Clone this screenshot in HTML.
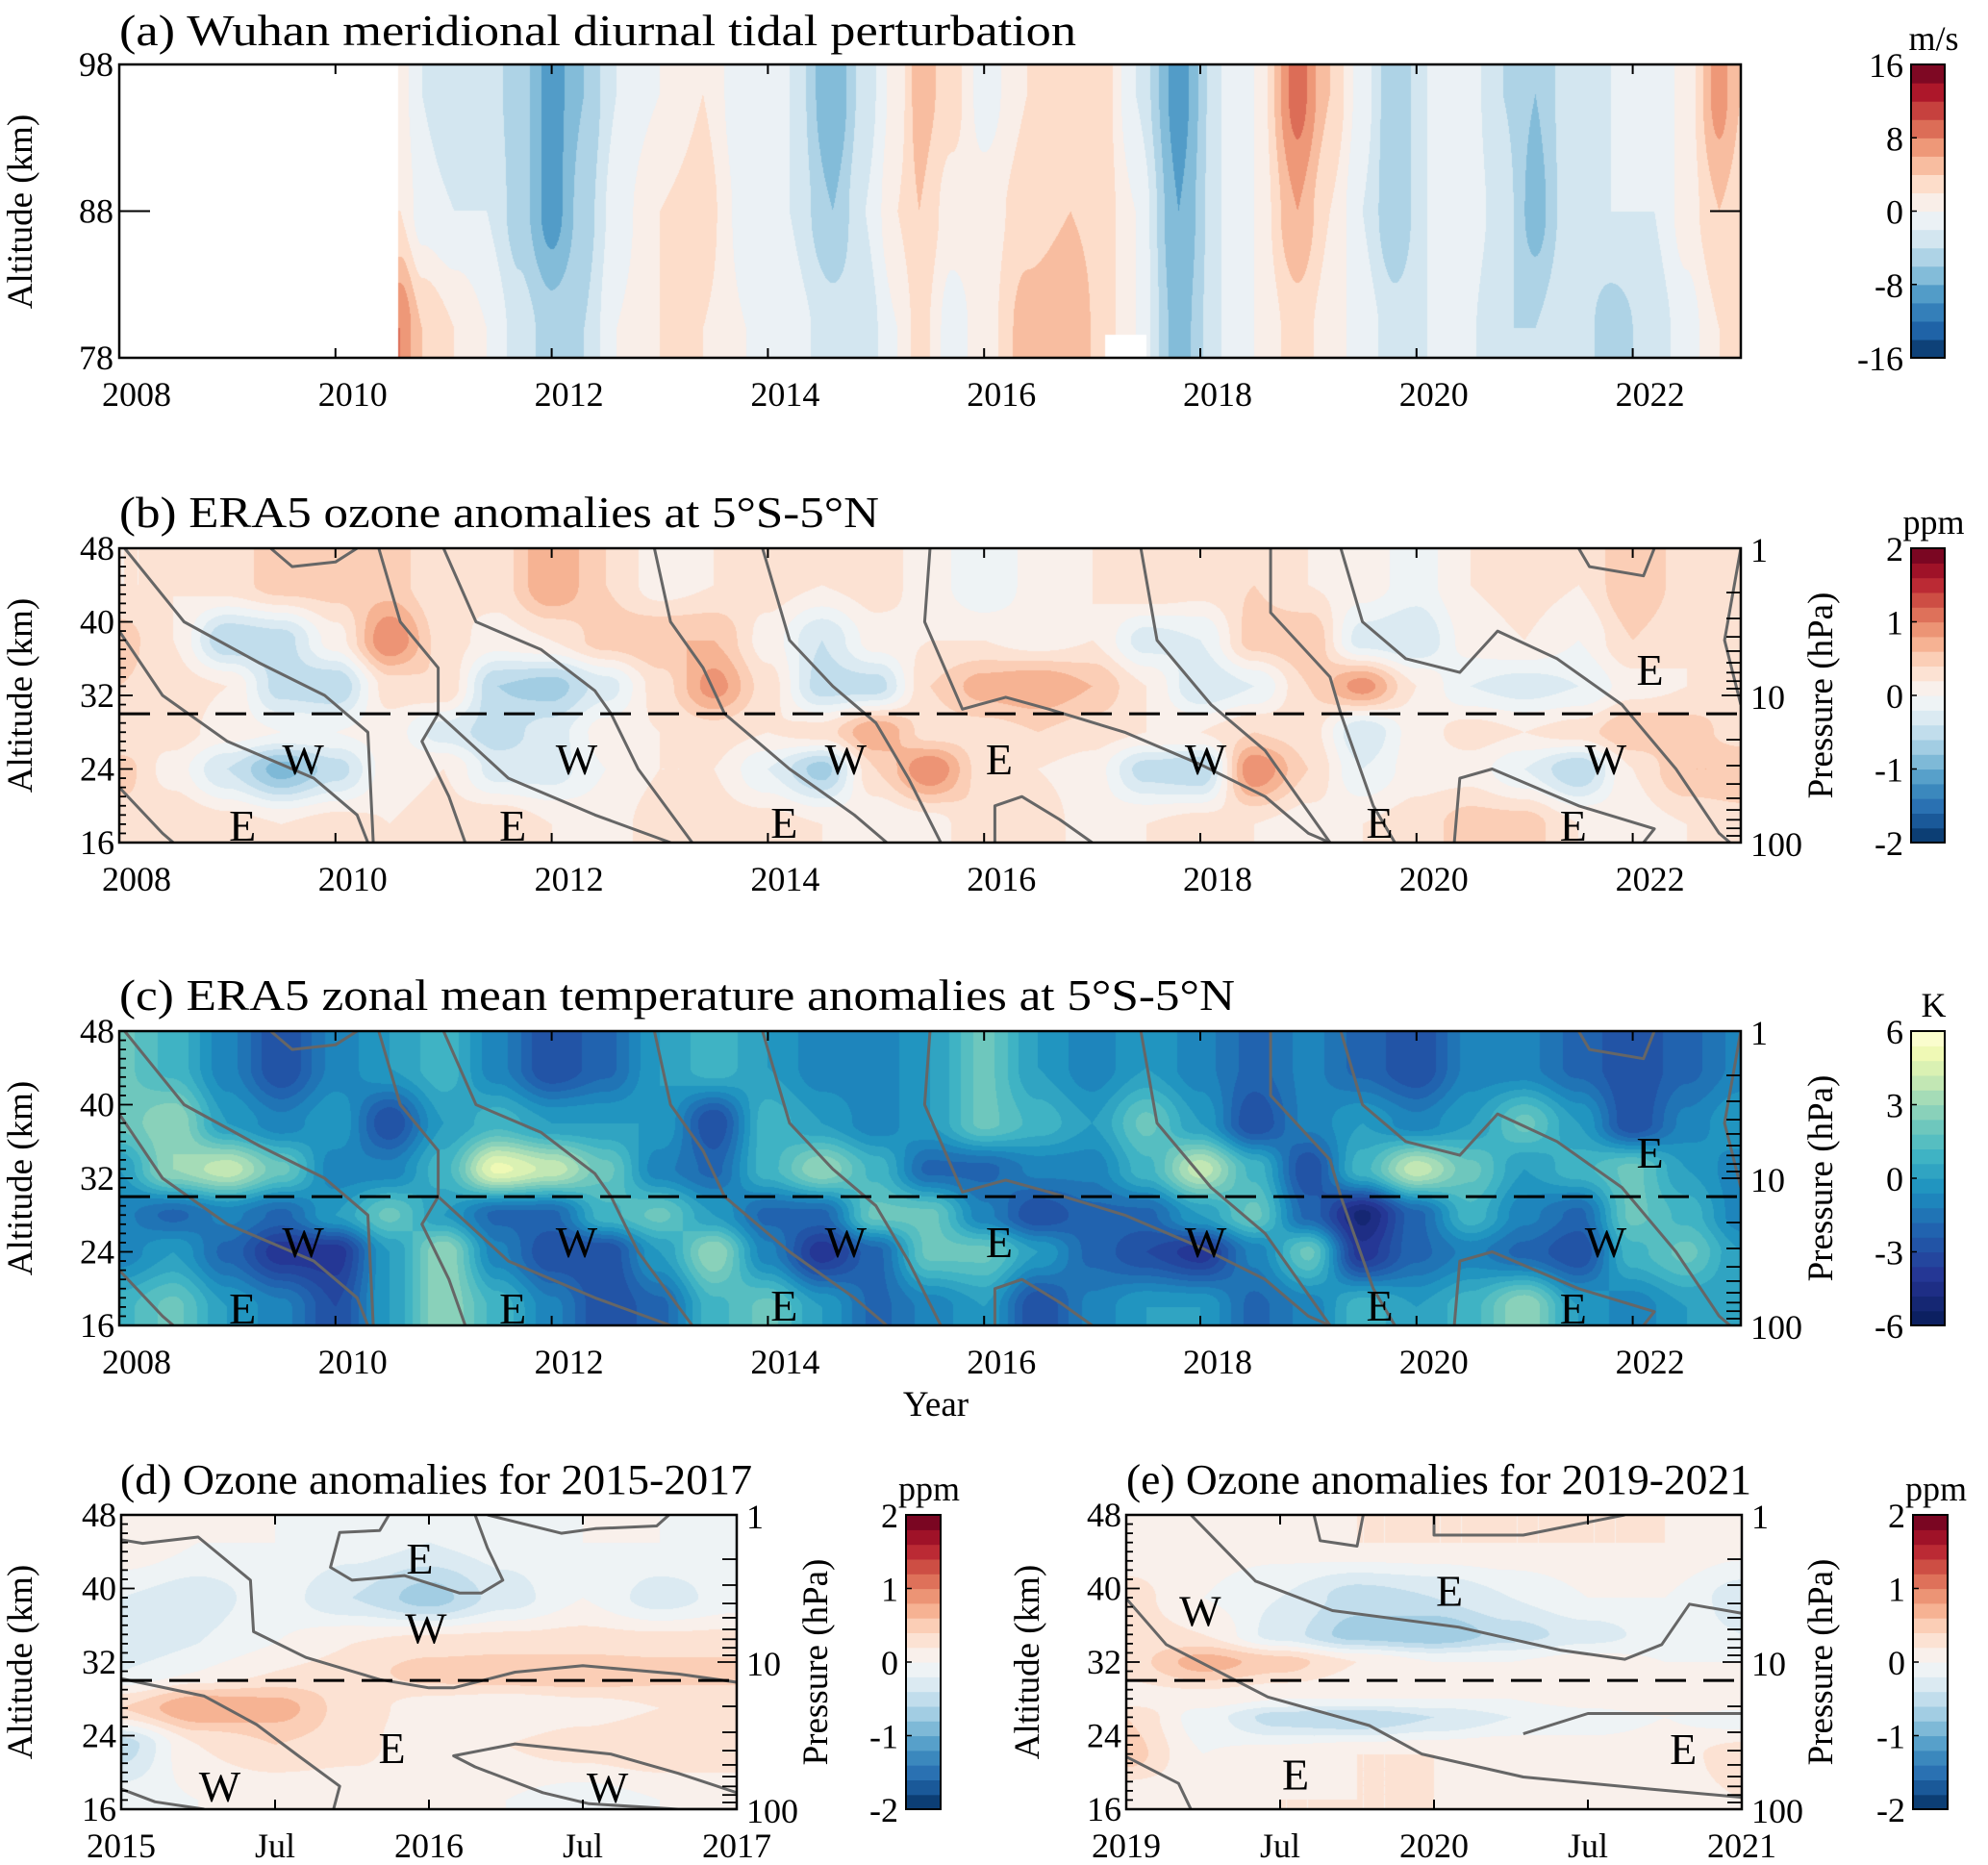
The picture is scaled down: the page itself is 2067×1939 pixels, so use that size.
<!DOCTYPE html>
<html><head><meta charset="utf-8"><title>QBO tidal and ozone figure</title>
<style>
html,body{margin:0;padding:0;background:#fff;}
#wrap{position:relative;width:2067px;height:1939px;overflow:hidden;}
canvas,svg{position:absolute;left:0;top:0;}
text{font-family:"Liberation Serif","DejaVu Serif",serif;fill:#000;}
</style></head>
<body>
<div id="wrap">
<canvas id="heat" width="2067" height="1939"></canvas>
<svg id="ov" width="2067" height="1939" xmlns="http://www.w3.org/2000/svg"></svg>
</div>
<script>
// ---------- Panel (a) data: Wuhan meridional diurnal tide (m/s) ----------
const aYears=[2010.6,2010.8,2011.1,2011.4,2011.7,2012.0,2012.3,2012.6,2013.0,2013.4,2013.8,2014.2,2014.6,2014.9,2015.2,2015.4,2015.7,2016.0,2016.4,2016.8,2017.1,2017.4,2017.8,2018.2,2018.5,2018.9,2019.2,2019.5,2019.8,2020.1,2020.4,2020.8,2021.1,2021.4,2021.8,2022.2,2022.5,2022.8,2023.0];
const aAlts=[80,88,96];
const aBot=[8,4,2,0,-3,-5,-4,0,2,2,0,-1,-3,-3,0,3,-1,1,5,6,3,0,-7,-2,0,3,1,-1,-3,-2,-1,-4,-4,-2,-5,-3,-1,2,2];
const aMid=[2,-1,-2,-2,-5,-9,-5,-1,2,3,-1,-2,-6,-2,2,4,1,1,3,4,3,0,-8,-2,0,6,2,-2,-6,-2,0,-3,-7,-3,-2,-2,1,4,3];
const aTop=[1,-2,-4,-3,-5,-9,-6,-2,0,2,-2,-2,-8,-3,1,5,3,-1,2,3,3,-2,-9,-2,0,9,4,-1,-6,-2,0,-4,-6,-3,-2,-2,1,7,4];
const aTicksX=[2008,2010,2012,2014,2016,2018,2020,2022];
const aTicksY=[78,88,98];
const aCbTicks=[16,8,0,-8,-16];

// ---------- Panel (b) data: ERA5 ozone anomalies (ppm) ----------
const bcYears=[2008,2008.5,2009,2009.5,2010,2010.5,2011,2011.5,2012,2012.5,2013,2013.5,2014,2014.5,2015,2015.5,2016,2016.5,2017,2017.5,2018,2018.5,2019,2019.5,2020,2020.5,2021,2021.5,2022,2022.5,2023];
const bcAlts=[18,24,28,33,38,44];
const b18=[0.3,0.4,0.3,0.2,0.3,0.2,0.3,0.4,0.2,0.1,0.3,0.3,0.3,0.2,0,0.1,0.4,0.3,0.1,0.2,0.3,0.2,0.1,0.2,0.3,0.5,0.5,0.2,0.1,0.2,0.3];
const b24=[0.5,0.1,-0.4,-0.9,-0.5,0.1,0.2,-0.3,-0.3,0,0.2,0.2,-0.2,-0.7,0.4,1.0,0.3,0.2,0.1,-0.5,-0.6,1.0,0.4,-0.2,0.1,0.1,-0.2,-0.6,0.2,0.6,0.6];
const b28=[0.2,0.3,0.1,0,0,0.1,-0.3,-0.5,-0.3,0.1,0.2,0.3,0.2,0.3,0.8,0.3,0.3,0.4,0.3,0.2,0.2,0.4,0.3,-0.4,0.1,0.3,0.2,0.3,0.6,0.5,0.3];
const b33=[0.4,0.3,0.2,-0.5,-0.6,0.3,0.4,-0.6,-0.7,-0.3,0.3,0.9,0.3,-0.5,-0.5,0.4,0.7,0.8,0.6,0.2,-0.4,-0.2,0.4,0.9,0.2,-0.2,-0.3,-0.2,0.1,0.2,0.4];
const b38=[0.5,0.2,-0.6,-0.5,0.1,1.0,0.3,0.1,0.2,0.5,0.6,0.6,0.1,-0.4,0.1,0.2,0.2,0.1,0.2,-0.3,-0.2,0.5,0.6,-0.3,-0.4,0.1,0.2,0,0.4,0.2,0.3];
const b44=[0.2,0.2,0.3,0.5,0.5,0.5,0.2,0.3,0.8,0.4,0.1,0.2,0.3,0.2,0.3,0.1,-0.2,0.1,0.2,0.4,0.3,0.4,0.2,0.1,-0.1,0.2,0.3,0.2,0.6,0.3,0.2];

// ---------- Panel (c) data: ERA5 temperature anomalies (K) ----------
const c18=[1,2,0,-1,-3,0,3,1,-1,-3,-2,1,2,0,-2,-1,0,-3,-1,0,0,-2,-1,1,0,1,3,0,-1,0,0];
const c24=[-1,0,-2,-4,-4,0,3,-1,-3,-3,0,3,-1,-4,-2,2,2,0,-2,-3,-4,-1,2,-4,-2,-1,-2,-3,1,2,0];
const c28=[-1,-2,-1,-2,0,2,0,-2,-2,1,2,0,-2,-2,2,2,-1,-3,-2,-2,0,2,-2,-5,-2,1,-1,-2,2,1,-1];
const c33=[0,3,4,2,-1,-1,1,5,4,2,-1,-2,1,3,1,-2,-2,-1,-1,1,4,1,-3,1,4,2,0,1,2,0,-1];
const c38=[2,3,0,-1,0,-3,0,1,0,0,0,-3,1,0,-1,0,2,1,0,2,0,-3,-1,0,-1,0,2,0,-3,-1,0];
const c44=[2,1,-1,-3,-1,0,1,-1,-3,-2,0,1,0,-1,-1,0,2,0,-1,0,-1,-2,-1,-2,-3,-1,-1,-2,-3,-2,-1];
const bcTicksX=[2008,2010,2012,2014,2016,2018,2020,2022];
const altTicks=[16,24,32,40,48];
const bCbTicks=[2,1,0,-1,-2];
const cCbTicks=[6,3,0,-3,-6];

// ---------- Panel (d) data: ozone 2015-2017 ----------
const dYears=[2015,2015.25,2015.5,2015.75,2016,2016.25,2016.5,2016.75,2017];
const dAlts=[17,23,27,31,34,39,45];
const d17=[-0.1,0,0,0,0.1,0,-0.1,0,0];
const d23=[-0.5,0.2,0.4,0.3,0,0.2,0.3,0.4,0.4];
const d27=[0.4,0.8,0.7,0.3,0.1,0,0.1,0.2,0.2];
const d31=[-0.2,0,0.2,0.3,0.5,0.6,0.6,0.5,0.5];
const d34=[-0.4,-0.2,0,0.2,0.3,0.3,0.3,0.3,0.3];
const d39=[-0.2,-0.3,-0.1,-0.4,-0.7,-0.3,0,-0.3,-0.1];
const d45=[0.2,0,0,-0.1,-0.2,-0.1,0,0,-0.1];
const dTickLabels=["2015","Jul","2016","Jul","2017"];
const dTickYears=[2015,2015.5,2016,2016.5,2017];

// ---------- Panel (e) data: ozone 2019-2021 ----------
const eYears=[2019,2019.25,2019.5,2019.75,2020,2020.25,2020.5,2020.75,2021];
const eAlts=[17,22,26,28,32,35,39,45];
const e17=[0,0.1,0.2,0.2,0.2,0.1,0.1,0.1,0.2];
const e22=[0.5,0,0.1,0.2,0.2,0.2,0.1,0.1,0.3];
const e26=[0.4,-0.1,-0.5,-0.6,-0.4,-0.2,-0.1,0,-0.1];
const e28=[0.1,0.1,0,0,0,0,0.1,0.2,0.2];
const e32=[0.3,0.7,0.5,0.2,0,0,0.1,0,0];
const e35=[0.3,0.2,-0.3,-0.7,-0.8,-0.5,-0.3,-0.1,-0.2];
const e39=[0.3,0,-0.2,-0.5,-0.4,-0.2,0,0,-0.3];
const e45=[0,0.1,0.1,0.2,0.2,0.2,0.2,0.2,0.1];
const eTickLabels=["2019","Jul","2020","Jul","2021"];
const eTickYears=[2019,2019.5,2020,2020.5,2021];

// ---------- zero-wind (QBO) contour lines: [year, altitude] ----------
const qboLines=[
 [[2008.05,48],[2008.6,40],[2009.3,35.5],[2009.9,32],[2010.3,28],[2010.35,16]],
 [[2008,39],[2008.4,32],[2009,27],[2009.8,23],[2010.2,19],[2010.3,16]],
 [[2008,22],[2008.4,17],[2008.5,16]],
 [[2009.4,48],[2009.6,46],[2010,46.5],[2010.2,48]],
 [[2010.4,48],[2010.6,40],[2010.95,35],[2010.95,30],[2010.8,27],[2011.05,21],[2011.2,16]],
 [[2011,48],[2011.3,40],[2011.9,37],[2012.4,32.5],[2012.55,30],[2012.8,24],[2013.3,16]],
 [[2010.95,30],[2011.6,23],[2012.4,19],[2013.1,16]],
 [[2012.95,48],[2013.1,40],[2013.4,35],[2013.6,30],[2014.2,24],[2014.8,19],[2015.1,16]],
 [[2013.95,48],[2014.2,38],[2014.6,33],[2015.0,29],[2015.3,23],[2015.6,16]],
 [[2015.5,48],[2015.45,40],[2015.8,30.5],[2016.2,31.8],[2016.6,30.5],[2017.3,28],[2018.0,24.5],[2018.6,21],[2019.0,17],[2019.2,16]],
 [[2017.45,48],[2017.6,38],[2018.1,31],[2018.6,26],[2019.2,16]],
 [[2016.1,16],[2016.1,20],[2016.35,21],[2016.7,18.5],[2017.0,16]],
 [[2018.65,48],[2018.65,41],[2019.2,34],[2019.3,30],[2019.6,20],[2019.8,16]],
 [[2019.3,48],[2019.5,40],[2019.9,36],[2020.4,34.5],[2020.75,39],[2021.3,36],[2021.9,31],[2022.4,24],[2022.8,17],[2022.9,16]],
 [[2020.35,16],[2020.4,23],[2020.7,24],[2021.5,20],[2022.2,17.5],[2022.1,16]],
 [[2021.5,48],[2021.6,46],[2022.1,45],[2022.2,48]],
 [[2023,48],[2022.85,38],[2023,31]]
];
const dLines=[
 [[2015,45.3],[2015.07,44.9],[2015.25,45.6],[2015.42,40.9],[2015.43,35.3],[2015.6,32.5],[2015.84,30.1],[2016,29.2],[2016.08,29.2],[2016.28,30.9],[2016.5,31.6],[2016.81,30.7],[2017,29.8]],
 [[2015,30.2],[2015.27,28.3],[2015.44,25.2],[2015.58,21.7],[2015.71,18.5],[2015.69,16]],
 [[2015,18.2],[2015.11,16.8],[2015.27,16]],
 [[2015.87,48],[2015.84,46.3],[2015.71,46.1],[2015.68,42.3],[2015.75,40.9],[2015.92,41.4],[2016.1,39.5],[2016.17,39.5],[2016.24,40.9],[2016.19,44.4],[2016.15,48]],
 [[2016.19,48],[2016.43,46],[2016.54,46.5],[2016.74,46.8],[2016.78,48]],
 [[2017,17.8],[2016.81,19.9],[2016.59,22],[2016.28,23.1],[2016.08,21.8],[2016.15,20.6],[2016.37,17.8],[2016.52,16.6],[2016.81,16],[2017,16]]
];
const eLines=[
 [[2019,38.9],[2019.13,33.9],[2019.46,28.2],[2019.79,25.1],[2019.96,22],[2020.29,19.5],[2020.7,18.2],[2021,17.3]],
 [[2019,21.7],[2019.17,18.8],[2019.21,16]],
 [[2019.21,48],[2019.42,40.8],[2019.67,37.6],[2020.08,35.8],[2020.41,33.3],[2020.62,32.3],[2020.74,33.9],[2020.83,38.3],[2021,37.3]],
 [[2019.61,48],[2019.63,45.2],[2019.75,44.6],[2019.77,48]],
 [[2020,48],[2020,45.8],[2020.29,45.8],[2020.62,48]],
 [[2020.29,24.2],[2020.5,26.4],[2021,26.4]]
];
const bcLabelText=["W","W","W","W","W","E","E","E","E","E","E","E"];
const bcLabelYear=[2009.7,2012.23,2014.72,2018.05,2021.75,2009.14,2011.64,2014.15,2016.14,2019.66,2021.45,2022.16];
const bcLabelAlt=[25.1,25.1,25.1,25.1,25.1,17.9,17.9,18.2,25.1,18.2,17.9,34.8];
const dLabelText=["E","W","E","W","W"];
const dLabelYear=[2015.97,2015.99,2015.88,2015.32,2016.58];
const dLabelAlt=[43.3,35.7,22.7,18.5,18.4];
const eLabelText=["W","E","E","E"];
const eLabelYear=[2019.24,2020.05,2019.55,2020.81];
const eLabelAlt=[37.6,39.8,19.8,22.6];

// ---------- geometry ----------
const PA={x0:124,x1:1810,y0:67,y1:372,xmin:2008,xmax:2023,ymin:78,ymax:98};
const PB={x0:124,x1:1810,y0:570,y1:876,xmin:2008,xmax:2023,ymin:16,ymax:48};
const PC={x0:124,x1:1810,y0:1072,y1:1378,xmin:2008,xmax:2023,ymin:16,ymax:48};
const PD={x0:126,x1:766,y0:1575,y1:1881,xmin:2015,xmax:2017,ymin:16,ymax:48};
const PE={x0:1171,x1:1811,y0:1575,y1:1881,xmin:2019,xmax:2021,ymin:16,ymax:48};
function X(p,v){return p.x0+(v-p.xmin)/(p.xmax-p.xmin)*(p.x1-p.x0);}
function Y(p,v){return p.y1-(v-p.ymin)/(p.ymax-p.ymin)*(p.y1-p.y0);}

function hex(h){return [parseInt(h.substr(1,2),16),parseInt(h.substr(3,2),16),parseInt(h.substr(5,2),16)];}
const RDBU=[[-1,'#053061'],[-0.8,'#2166ac'],[-0.6,'#4393c3'],[-0.4,'#92c5de'],[-0.2,'#d1e5f0'],[0,'#f7f7f7'],[0.2,'#fddbc7'],[0.4,'#f4a582'],[0.6,'#d6604d'],[0.8,'#b2182b'],[1,'#67001f']].map(s=>[s[0],hex(s[1])]);
const YGB=[[-1,'#081d58'],[-0.667,'#253494'],[-0.333,'#2166b0'],[-0.08,'#1d91c0'],[0.167,'#41b6c4'],[0.417,'#7fcdbb'],[0.667,'#c7e9b4'],[0.833,'#edf8b1'],[1,'#ffffd9']].map(s=>[s[0],hex(s[1])]);
function cmap(stops,t){
  t=Math.max(-1,Math.min(1,t));
  for(let i=0;i<stops.length-1;i++){
    if(t<=stops[i+1][0]){const a=stops[i],b=stops[i+1];const f=(t-a[0])/(b[0]-a[0]);
      return [0,1,2].map(k=>Math.round(a[1][k]+(b[1][k]-a[1][k])*f));}
  }
  return stops[stops.length-1][1];
}
function sm(f){return f*f*(3-2*f);}
function idx(arr,v){
  if(v<=arr[0])return [0,0,0];
  if(v>=arr[arr.length-1])return [arr.length-1,arr.length-1,0];
  for(let i=0;i<arr.length-1;i++){if(v<=arr[i+1])return [i,i+1,sm((v-arr[i])/(arr[i+1]-arr[i]))];}
}
function interp(xs,ys,rows,x,y){
  const [i0,i1,fx]=idx(xs,x);const [j0,j1,fy]=idx(ys,y);
  const v0=rows[j0][i0]*(1-fx)+rows[j0][i1]*fx;
  const v1=rows[j1][i0]*(1-fx)+rows[j1][i1]*fx;
  return v0*(1-fy)+v1*fy;
}
const ctx=document.getElementById('heat').getContext('2d');
function drawHeat(p,xs,ys,rows,vmax,step,stops,mask){
  const w=p.x1-p.x0,h=p.y1-p.y0;
  const img=ctx.createImageData(w,h);
  for(let j=0;j<h;j++){
    const alt=p.ymax-(j+0.5)/h*(p.ymax-p.ymin);
    for(let i=0;i<w;i++){
      const yr=p.xmin+(i+0.5)/w*(p.xmax-p.xmin);
      let c;
      if(mask&&mask(yr,alt)){c=[255,255,255];}
      else{
        let v=interp(xs,ys,rows,yr,alt);
        v=(Math.floor(v/step)+0.5)*step;
        c=cmap(stops,v/vmax);
      }
      const k=(j*w+i)*4;img.data[k]=c[0];img.data[k+1]=c[1];img.data[k+2]=c[2];img.data[k+3]=255;
    }
  }
  ctx.putImageData(img,p.x0,p.y0);
}
drawHeat(PA,aYears,aAlts,[aBot,aMid,aTop],16,2,RDBU,(yr,alt)=>yr<2010.58||(yr>2017.12&&yr<2017.5&&alt<79.6));
drawHeat(PB,bcYears,bcAlts,[b18,b24,b28,b33,b38,b44],2,0.2,RDBU,null);
drawHeat(PC,bcYears,bcAlts,[c18,c24,c28,c33,c38,c44],6,0.6,YGB,null);
drawHeat(PD,dYears,dAlts,[d17,d23,d27,d31,d34,d39,d45],2,0.2,RDBU,null);
drawHeat(PE,eYears,eAlts,[e17,e22,e26,e28,e32,e35,e39,e45],2,0.2,RDBU,null);

// ---------- SVG overlay ----------
const NS='http://www.w3.org/2000/svg';
const svg=document.getElementById('ov');
function add(tag,attrs,name,parent){
  const el=document.createElementNS(NS,tag);
  for(const k in attrs)el.setAttribute(k,attrs[k]);
  
  
  (parent||svg).appendChild(el);return el;
}
function txt(s,attrs,name,parent){const t=add('text',attrs,name,parent);t.textContent=s;return t;}
function line(x1,y1,x2,y2,name,w,parent){return add('line',{x1:x1,y1:y1,x2:x2,y2:y2,stroke:'#000','stroke-width':w||2},name,parent);}

function pathFrom(p,pts){return pts.map((q,i)=>(i?'L':'M')+X(p,q[0]).toFixed(1)+','+Y(p,q[1]).toFixed(1)).join(' ');}
function contours(p,lines,name){
  const g=add('g',{'clip-path':'url(#clip-'+name+')'},name+'-zero-wind-contours');
  lines.forEach(l=>{add('path',{d:pathFrom(p,l),fill:'none',stroke:'#666','stroke-width':3,'stroke-linejoin':'round'},'zero-wind-line',g);});
}
const defs=add('defs',{},'defs');
[['a',PA],['b',PB],['c',PC],['d',PD],['e',PE]].forEach(([n,p])=>{
  const cp=add('clipPath',{id:'clip-'+n},'clip-'+n,defs);
  add('rect',{x:p.x0,y:p.y0,width:p.x1-p.x0,height:p.y1-p.y0},'clip-rect',cp);
});

function frame(p,name){add('rect',{x:p.x0,y:p.y0,width:p.x1-p.x0,height:p.y1-p.y0,fill:'none',stroke:'#000','stroke-width':2.5},name+'-frame');}
function dashed(p,name){line(p.x0,Y(p,30),p.x1,Y(p,30),name+'-30km-dashed-line',3).setAttribute('stroke-dasharray','32,18');}
function altAxis(p,name,labelX){
  const g=add('g',{},name+'-y-axis');
  for(let a=p.ymin;a<=p.ymax;a++){
    const major=altTicks.indexOf(a)>=0;
    line(p.x0,Y(p,a),p.x0+(major?14:7),Y(p,a),'y-tick',1.8,g);
  }
  altTicks.forEach(a=>txt(String(a),{x:p.x0-5,y:Y(p,a)+12,'font-size':36,'text-anchor':'end'},'y-tick-label',g));
  txt('Altitude (km)',{x:labelX,y:(p.y0+p.y1)/2,'font-size':37,'text-anchor':'middle',transform:'rotate(-90 '+labelX+' '+((p.y0+p.y1)/2)+')'},name+'-y-axis-title');
}
function presAxis(p,name,titleX){
  const g=add('g',{},name+'-pressure-axis');
  const pAlt=pr=>48-16*Math.log10(pr);
  [1,2,3,4,5,6,7,8,9,10,20,30,40,50,60,70,80,90,100].forEach(pr=>{
    const major=(pr===1||pr===10||pr===100);
    line(p.x1,Y(p,pAlt(pr)),p.x1-(major?20:15),Y(p,pAlt(pr)),'pressure-tick',1.8,g);
  });
  [['1',1],['10',10],['100',100]].forEach(([s,pr])=>txt(s,{x:p.x1+10,y:Y(p,pAlt(pr))+14,'font-size':36},'pressure-tick-label',g));
  const cy=(p.y0+p.y1)/2;
  txt('Pressure (hPa)',{x:titleX,y:cy,'font-size':37,'text-anchor':'middle',transform:'rotate(-90 '+titleX+' '+cy+')'},name+'-pressure-axis-title');
}
function xAxis(p,years,labels,name,dx){
  const g=add('g',{},name+'-x-axis');
  years.forEach((yr,i)=>{
    line(X(p,yr),p.y1,X(p,yr),p.y1-10,'x-tick',2,g);
    line(X(p,yr),p.y0,X(p,yr),p.y0+10,'x-tick-top',2,g);
    txt(labels[i],{x:X(p,yr)+dx,y:p.y1+50,'font-size':36,'text-anchor':'middle'},'x-tick-label',g);
  });
}
function colorbar(x0,x1,y0,y1,vmax,step,stops,ticks,unit,name){
  const g=add('g',{},name);
  const n=Math.round(2*vmax/step);
  for(let i=0;i<n;i++){
    const v=-vmax+(i+0.5)*step;const c=cmap(stops,v/vmax);
    const yt=y1-(i+1)/n*(y1-y0);
    add('rect',{x:x0,y:yt,width:x1-x0,height:(y1-y0)/n+0.6,fill:'rgb('+c.join(',')+')'},'colorbar-level',g);
  }
  add('rect',{x:x0,y:y0,width:x1-x0,height:y1-y0,fill:'none',stroke:'#000','stroke-width':2},'colorbar-frame',g);
  ticks.forEach(t=>{
    const yy=y1-(t+vmax)/(2*vmax)*(y1-y0);
    line(x0,yy,x0+6,yy,'colorbar-tick',1.5,g);
    txt(String(t),{x:x0-8,y:yy+13,'font-size':36,'text-anchor':'end'},'colorbar-tick-label',g);
  });
  txt(unit,{x:(x0+x1)/2+6,y:y0-15,'font-size':36,'text-anchor':'middle'},'colorbar-unit',g);
}
function labels(p,txts,yrs,alts,name){
  txts.forEach((s,i)=>txt(s,{x:X(p,yrs[i]),y:Y(p,alts[i])+16,'font-size':46,'text-anchor':'middle'},name+'-phase-label'));
}

// Titles
txt('(a) Wuhan meridional diurnal tidal perturbation',{x:124,y:47,'font-size':46,textLength:995,lengthAdjust:'spacingAndGlyphs'},'panel-a-title');
txt('(b) ERA5 ozone anomalies at 5°S-5°N',{x:124,y:548,'font-size':46,textLength:790,lengthAdjust:'spacingAndGlyphs'},'panel-b-title');
txt('(c) ERA5 zonal mean temperature anomalies at 5°S-5°N',{x:124,y:1050,'font-size':46,textLength:1160,lengthAdjust:'spacingAndGlyphs'},'panel-c-title');
txt('(d) Ozone anomalies for 2015-2017',{x:125,y:1553,'font-size':44,textLength:657,lengthAdjust:'spacingAndGlyphs'},'panel-d-title');
txt('(e) Ozone anomalies for 2019-2021',{x:1171,y:1553,'font-size':44,textLength:650,lengthAdjust:'spacingAndGlyphs'},'panel-e-title');

// Panel a axes
frame(PA,'panel-a');
(function(){
  const g=add('g',{},'panel-a-y-axis');
  aTicksY.forEach(a=>txt(String(a),{x:PA.x0-6,y:Y(PA,a)+12,'font-size':36,'text-anchor':'end'},'y-tick-label',g));
  line(PA.x0,Y(PA,88),PA.x0+32,Y(PA,88),'y-tick',2,g);
  line(PA.x1,Y(PA,88),PA.x1-32,Y(PA,88),'y-tick-right',2,g);
  txt('Altitude (km)',{x:33,y:220,'font-size':37,'text-anchor':'middle',transform:'rotate(-90 33 220)'},'panel-a-y-axis-title');
})();
xAxis(PA,aTicksX,aTicksX.map(String),'panel-a',18);
colorbar(1987,2022,67,372,16,2,RDBU,aCbTicks,'m/s','panel-a-colorbar');

// Panel b
contours(PB,qboLines,'b');dashed(PB,'panel-b');frame(PB,'panel-b');
altAxis(PB,'panel-b',33);presAxis(PB,'panel-b',1905);
xAxis(PB,bcTicksX,bcTicksX.map(String),'panel-b',18);
colorbar(1987,2022,570,876,2,0.2,RDBU,bCbTicks,'ppm','panel-b-colorbar');
labels(PB,bcLabelText,bcLabelYear,bcLabelAlt,'panel-b');

// Panel c
contours(PC,qboLines,'c');dashed(PC,'panel-c');frame(PC,'panel-c');
altAxis(PC,'panel-c',33);presAxis(PC,'panel-c',1905);
xAxis(PC,bcTicksX,bcTicksX.map(String),'panel-c',18);
colorbar(1987,2022,1072,1378,6,0.6,YGB,cCbTicks,'K','panel-c-colorbar');
labels(PC,bcLabelText,bcLabelYear,bcLabelAlt,'panel-c');
txt('Year',{x:973,y:1472,'font-size':37,'text-anchor':'middle'},'x-axis-title');

// Panel d
contours(PD,dLines,'d');dashed(PD,'panel-d');frame(PD,'panel-d');
altAxis(PD,'panel-d',33);presAxis(PD,'panel-d',860);
xAxis(PD,dTickYears,dTickLabels,'panel-d',0);
colorbar(942,978,1575,1881,2,0.2,RDBU,bCbTicks,'ppm','panel-d-colorbar');
labels(PD,dLabelText,dLabelYear,dLabelAlt,'panel-d');

// Panel e
contours(PE,eLines,'e');dashed(PE,'panel-e');frame(PE,'panel-e');
altAxis(PE,'panel-e',1080);presAxis(PE,'panel-e',1905);
xAxis(PE,eTickYears,eTickLabels,'panel-e',0);
colorbar(1989,2025,1575,1881,2,0.2,RDBU,bCbTicks,'ppm','panel-e-colorbar');
labels(PE,eLabelText,eLabelYear,eLabelAlt,'panel-e');
</script>
</body></html>
